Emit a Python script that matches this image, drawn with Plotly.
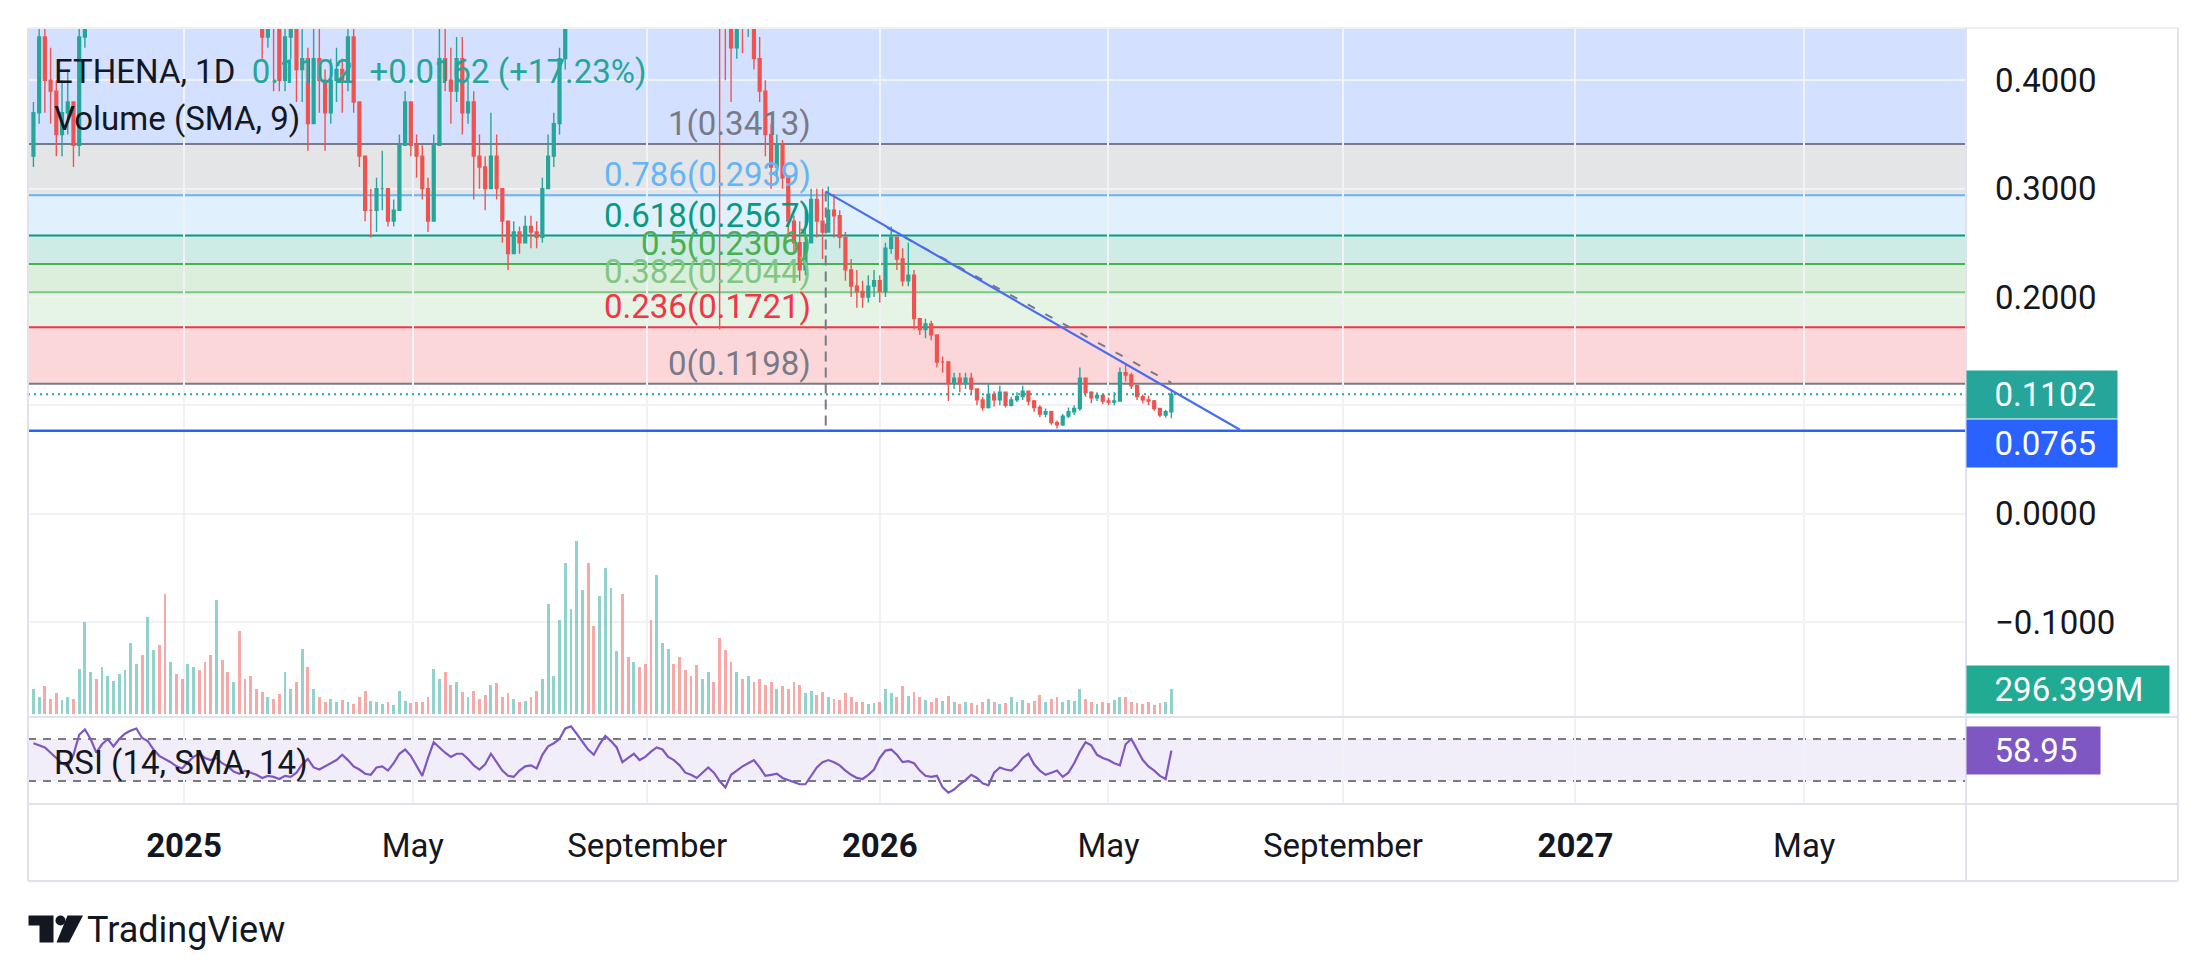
import pandas as pd
import plotly.graph_objects as go

# ---------------- data ----------------
START_DATE = "2024-10-14"
STEP = "3D"
FIRST_OPEN = 0.33

CLOSE = [
    0.37, 0.44, 0.40, 0.39, 0.35, 0.37, 0.38, 0.34, 0.44, 0.50,
    0.58, 0.55, 0.60, 0.65, 0.70, 0.72, 0.82, 0.95, 1.05, 0.98,
    1.10, 1.18, 1.05, 0.98, 1.12, 1.02, 0.95, 1.05, 1.15, 1.05,
    0.85, 0.78, 0.85, 0.80, 0.78, 0.82, 0.80, 0.70, 0.56, 0.52,
    0.44, 0.47, 0.45, 0.40, 0.44, 0.46, 0.41, 0.42, 0.36, 0.42,
    0.40, 0.37, 0.40, 0.41, 0.40, 0.44, 0.38, 0.33, 0.28, 0.28,
    0.30, 0.30, 0.27, 0.28, 0.34, 0.38, 0.34, 0.33, 0.30, 0.27,
    0.34, 0.42, 0.40, 0.39, 0.42, 0.37, 0.38, 0.33, 0.32, 0.30,
    0.33, 0.30, 0.27, 0.24, 0.26, 0.25, 0.265, 0.26, 0.255, 0.30,
    0.33, 0.36, 0.42, 0.46, 0.55, 0.58, 0.62, 0.60, 0.55, 0.58,
    0.66, 0.72, 0.78, 0.74, 0.66, 0.70, 0.68, 0.64, 0.62, 0.66,
    0.73, 0.76, 0.74, 0.70, 0.60, 0.58, 0.56, 0.58, 0.60, 0.58,
    0.46, 0.45, 0.43, 0.47, 0.46, 0.48, 0.42, 0.39, 0.35, 0.32,
    0.34, 0.31, 0.27, 0.25, 0.225, 0.25, 0.29, 0.27, 0.26, 0.28,
    0.275, 0.255, 0.225, 0.21, 0.205, 0.20, 0.21, 0.215, 0.205, 0.245,
    0.255, 0.235, 0.215, 0.22, 0.18, 0.17, 0.175, 0.165, 0.14, 0.14,
    0.12, 0.125, 0.12, 0.125, 0.115, 0.105, 0.098, 0.11, 0.105, 0.112,
    0.10, 0.105, 0.108, 0.113, 0.104, 0.098, 0.092, 0.094, 0.084, 0.082,
    0.09, 0.094, 0.097, 0.125, 0.112, 0.107, 0.109, 0.104, 0.103, 0.104,
    0.13, 0.128, 0.118, 0.108, 0.105, 0.104, 0.097, 0.091, 0.094, 0.1102,
]
HIGH = [
    0.38, 0.46, 0.45, 0.43, 0.40, 0.40, 0.41, 0.38, 0.46, 0.53,
    0.60, 0.61, 0.63, 0.68, 0.74, 0.78, 0.86, 1.00, 1.12, 1.08,
    1.15, 1.25, 1.20, 1.08, 1.16, 1.14, 1.05, 1.08, 1.22, 1.17,
    1.06, 0.88, 0.90, 0.88, 0.84, 0.86, 0.85, 0.82, 0.72, 0.58,
    0.52, 0.50, 0.49, 0.47, 0.47, 0.49, 0.47, 0.46, 0.43, 0.45,
    0.45, 0.41, 0.42, 0.43, 0.42, 0.45, 0.45, 0.38, 0.33, 0.30,
    0.31, 0.335, 0.30, 0.29, 0.35, 0.39, 0.38, 0.35, 0.34, 0.31,
    0.35, 0.45, 0.46, 0.43, 0.44, 0.44, 0.40, 0.39, 0.35, 0.33,
    0.37, 0.35, 0.30, 0.27, 0.27, 0.265, 0.275, 0.275, 0.27, 0.31,
    0.35, 0.37, 0.43, 0.48, 0.58, 0.62, 0.66, 0.65, 0.62, 0.60,
    0.68, 0.75, 0.82, 0.80, 0.76, 0.73, 0.72, 0.70, 0.66, 0.68,
    0.75, 0.80, 0.79, 0.76, 0.71, 0.62, 0.60, 0.61, 0.63, 0.62,
    0.60, 0.50, 0.48, 0.50, 0.49, 0.51, 0.49, 0.44, 0.40, 0.36,
    0.35, 0.345, 0.31, 0.275, 0.27, 0.28, 0.30, 0.30, 0.30, 0.302,
    0.295, 0.28, 0.26, 0.235, 0.225, 0.215, 0.22, 0.225, 0.22, 0.25,
    0.265, 0.255, 0.245, 0.25, 0.225, 0.18, 0.18, 0.178, 0.165, 0.145,
    0.14, 0.13, 0.13, 0.13, 0.13, 0.115, 0.108, 0.12, 0.113, 0.118,
    0.112, 0.108, 0.112, 0.118, 0.113, 0.105, 0.10, 0.097, 0.095, 0.086,
    0.092, 0.098, 0.10, 0.135, 0.125, 0.113, 0.112, 0.11, 0.107, 0.112,
    0.135, 0.139, 0.13, 0.118, 0.11, 0.109, 0.105, 0.097, 0.096, 0.115,
]
LOW = [
    0.32, 0.36, 0.37, 0.36, 0.33, 0.33, 0.35, 0.32, 0.33, 0.43,
    0.49, 0.52, 0.53, 0.58, 0.63, 0.66, 0.70, 0.80, 0.92, 0.93,
    0.96, 1.05, 1.00, 0.92, 0.97, 0.98, 0.90, 0.93, 1.03, 1.00,
    0.82, 0.72, 0.76, 0.74, 0.74, 0.76, 0.74, 0.66, 0.45, 0.48,
    0.42, 0.43, 0.39, 0.39, 0.39, 0.42, 0.38, 0.38, 0.335, 0.36,
    0.37, 0.335, 0.36, 0.38, 0.37, 0.39, 0.37, 0.32, 0.27, 0.255,
    0.26, 0.28, 0.265, 0.265, 0.28, 0.34, 0.33, 0.31, 0.29, 0.26,
    0.27, 0.34, 0.39, 0.36, 0.38, 0.35, 0.36, 0.29, 0.30, 0.28,
    0.30, 0.29, 0.25, 0.225, 0.24, 0.24, 0.25, 0.245, 0.245, 0.25,
    0.30, 0.32, 0.35, 0.41, 0.45, 0.52, 0.55, 0.56, 0.52, 0.53,
    0.57, 0.64, 0.70, 0.70, 0.63, 0.64, 0.64, 0.61, 0.58, 0.60,
    0.65, 0.71, 0.70, 0.67, 0.57, 0.55, 0.53, 0.54, 0.56, 0.55,
    0.17, 0.40, 0.38, 0.42, 0.425, 0.44, 0.41, 0.38, 0.33, 0.30,
    0.31, 0.30, 0.255, 0.24, 0.215, 0.22, 0.25, 0.255, 0.235, 0.26,
    0.255, 0.245, 0.215, 0.20, 0.19, 0.19, 0.195, 0.20, 0.195, 0.20,
    0.24, 0.225, 0.21, 0.21, 0.17, 0.165, 0.162, 0.16, 0.135, 0.13,
    0.104, 0.115, 0.112, 0.115, 0.11, 0.10, 0.095, 0.097, 0.099, 0.10,
    0.098, 0.099, 0.103, 0.105, 0.10, 0.094, 0.089, 0.089, 0.082, 0.0785,
    0.081, 0.088, 0.091, 0.095, 0.108, 0.102, 0.104, 0.101, 0.10, 0.10,
    0.104, 0.122, 0.115, 0.105, 0.102, 0.10, 0.095, 0.089, 0.0885, 0.088,
]
VOLUME_M = [
    300, 200, 340, 180, 250, 170, 200, 180, 540, 1090,
    500, 420, 560, 450, 400, 480, 520, 850, 600, 700,
    1150, 760, 820, 1430, 620, 480, 420, 600, 560, 520,
    620, 700, 1360, 640, 500, 380, 990, 420, 450, 300,
    260, 200, 180, 240, 500, 300, 380, 770, 560, 300,
    200, 150, 180, 140, 170, 150, 120, 200, 280, 160,
    150, 120, 140, 110, 280, 160, 130, 150, 140, 200,
    540, 420, 500, 350, 380, 260, 200, 280, 180, 230,
    350, 370, 200, 250, 180, 150, 160, 200, 280, 420,
    1310, 450, 1120, 1800, 1250, 2060, 1470, 1800, 1050, 1400,
    1740, 1500, 750, 1430, 680, 620, 560, 600, 1120, 1650,
    850, 780, 600, 680, 520, 450, 580, 420, 500, 380,
    900, 760, 620, 500, 420, 450, 380, 420, 350, 380,
    300, 340, 300, 380, 350, 250, 280, 230, 260, 200,
    180, 170, 250, 200, 150, 140, 120, 130, 150, 300,
    250, 200, 330, 220, 260, 200, 170, 150, 190, 160,
    220, 150, 120, 140, 130, 110, 140, 180, 150, 120,
    130, 200, 140, 170, 130, 160, 230, 150, 180, 200,
    150, 170, 160, 300, 180, 150, 120, 140, 130, 170,
    200, 210, 150, 130, 120, 140, 110, 130, 150, 296.399,
]
RSI = [
    66, 64, 62, 57, 52, 47, 44, 55, 74, 79,
    70, 57, 65, 70, 63, 70, 75, 78, 80, 71,
    68, 60, 54, 51, 48, 44, 42, 48, 53, 56,
    52, 50, 52, 47, 44, 39, 37, 40, 38, 36,
    33, 35, 34, 32, 35, 34, 38, 46, 51, 43,
    41, 44, 47, 50, 55, 50, 44, 41, 37, 36,
    43, 44, 40, 47, 56, 60, 54, 45, 35, 52,
    67, 62, 57, 53, 56, 56, 51, 45, 41, 46,
    56, 48, 40, 35, 34, 40, 44, 45, 42, 55,
    63, 66, 70, 80, 82, 75, 68, 60, 55, 65,
    73, 68, 62, 48, 52, 56, 50, 53, 58, 62,
    60, 53, 50, 45, 38, 36, 33, 38, 43, 38,
    30, 24, 36, 40, 44, 47, 50, 43, 35, 36,
    37, 33, 31, 29, 27, 27, 35, 43, 48, 50,
    48, 45, 40, 36, 33, 32, 36, 41, 52, 59,
    60, 55, 48, 49, 47, 40, 35, 34, 35, 24,
    19, 22, 27, 31, 36, 33, 28, 26, 38, 43,
    41, 40, 45, 52, 56, 46, 40, 36, 38, 40,
    34, 38, 47, 58, 67, 64, 55, 52, 50, 47,
    45, 65, 70, 60, 50, 44, 40, 35, 32, 58.95,
]

SYMBOL = "ETHENA, 1D"
LAST_PRICE = 0.1102
CHANGE_TEXT = "+0.0162 (+17.23%)"
VOLUME_LABEL = "296.399M"

FIB_LOW = 0.1198
FIB_HIGH = 0.3413
FIB_RATIOS = [0, 0.236, 0.382, 0.5, 0.618, 0.786, 1, 1.618]
FIB_NAMES = ["0", "0.236", "0.382", "0.5", "0.618", "0.786", "1", "1.618"]
FIB_COLORS = ["#787b86", "#f23645", "#81c784", "#4caf50", "#089981", "#64b5f6", "#787b86", "#2962ff"]
FIB_ANCHOR = "2025-12-03 16:00"

SUPPORT = 0.0765
TREND = [("2025-12-03 16:00", 0.2973), ("2026-07-09", 0.0775)]
TREND_DASH = [("2026-01-05", 0.2638), ("2026-06-03", 0.1208)]
VLINE = [("2025-12-03 16:00", 0.2973), ("2025-12-03 16:00", SUPPORT)]

TICK_DATES = ["2025-01-01", "2025-05-01", "2025-09-01", "2026-01-01",
              "2026-05-01", "2026-09-01", "2027-01-01", "2027-05-01"]
TICK_TEXT = ["<b>2025</b>", "May", "September", "<b>2026</b>",
             "May", "September", "<b>2027</b>", "May"]
PRICE_TICKS = [-0.1, 0.0, 0.1, 0.2, 0.3, 0.4]
X_RANGE = ["2024-10-11 03:30", "2027-07-24 21:30"]

# ---------------- figure ----------------
W, H = 2206, 980
PL, PR, PT, PB = 28, 1966, 28, 804.5   # plot area in pixels
OUTER_R, AXIS_B = 2178, 881.5
SEP = 717.5


def px(x):
    return (x - PL) / (PR - PL)


def py(y):
    return (PB - y) / (PB - PT)


def rgba(hexc, a):
    h = hexc.lstrip("#")
    return "rgba(%d,%d,%d,%s)" % (int(h[0:2], 16), int(h[2:4], 16), int(h[4:6], 16), a)


dates = pd.date_range(START_DATE, periods=len(CLOSE), freq=STEP)
OPEN = [FIRST_OPEN] + CLOSE[:-1]
up = [c >= o for c, o in zip(CLOSE, OPEN)]
vol_colors = [rgba("#26a69a", 0.5) if u else rgba("#ef5350", 0.5) for u in up]

TEXT = "#131722"
FONT = "Roboto"
FS = 33

fig = go.Figure()
fig.add_trace(go.Bar(
    x=dates, y=VOLUME_M, marker=dict(color=vol_colors, line=dict(width=0)),
    width=1.5 * 86400000, xaxis="x", yaxis="y3", hoverinfo="skip", showlegend=False))
fig.add_trace(go.Candlestick(
    x=dates, open=OPEN, high=HIGH, low=LOW, close=CLOSE,
    increasing=dict(line=dict(color="#26a69a", width=1.4), fillcolor="#26a69a"),
    decreasing=dict(line=dict(color="#ef5350", width=1.4), fillcolor="#ef5350"),
    whiskerwidth=0, xaxis="x", yaxis="y", hoverinfo="skip", showlegend=False))
fig.add_trace(go.Scatter(
    x=dates, y=RSI, mode="lines", line=dict(color="#7e57c2", width=2.2),
    xaxis="x", yaxis="y2", hoverinfo="skip", showlegend=False))

shapes = []
fib_vals = [FIB_LOW + (FIB_HIGH - FIB_LOW) * r for r in FIB_RATIOS]
for i in range(len(fib_vals) - 1):
    shapes.append(dict(type="rect", xref="x domain", yref="y", x0=0, x1=1,
                       y0=fib_vals[i], y1=fib_vals[i + 1],
                       fillcolor=rgba(FIB_COLORS[i + 1], 0.2), line=dict(width=0), layer="below"))
for v, c in zip(fib_vals[:-1], FIB_COLORS[:-1]):
    shapes.append(dict(type="line", xref="x domain", yref="y", x0=0, x1=1, y0=v, y1=v,
                       line=dict(color=c, width=2), layer="below"))
# RSI band and bounds
shapes.append(dict(type="rect", xref="x domain", yref="y2", x0=0, x1=1, y0=30, y1=70,
                   fillcolor=rgba("#7e57c2", 0.1), line=dict(width=0), layer="below"))
for lv in (30, 70):
    shapes.append(dict(type="line", xref="x domain", yref="y2", x0=0, x1=1, y0=lv, y1=lv,
                       line=dict(color="#787b86", width=2, dash="8px,7px"), layer="below"))
# drawings
shapes.append(dict(type="line", xref="x domain", yref="y", x0=0, x1=1, y0=SUPPORT, y1=SUPPORT,
                   line=dict(color="#2962ff", width=2.5)))
shapes.append(dict(type="line", xref="x domain", yref="y", x0=0, x1=1, y0=LAST_PRICE, y1=LAST_PRICE,
                   line=dict(color="#26a69a", width=2, dash="2px,4px")))
shapes.append(dict(type="line", xref="x", yref="y", x0=VLINE[0][0], y0=VLINE[0][1],
                   x1=VLINE[1][0], y1=VLINE[1][1],
                   line=dict(color="#787b86", width=2, dash="10px,6px")))
shapes.append(dict(type="line", xref="x", yref="y", x0=TREND_DASH[0][0], y0=TREND_DASH[0][1],
                   x1=TREND_DASH[1][0], y1=TREND_DASH[1][1],
                   line=dict(color="#787b86", width=2, dash="8px,12px")))
shapes.append(dict(type="line", xref="x", yref="y", x0=TREND[0][0], y0=TREND[0][1],
                   x1=TREND[1][0], y1=TREND[1][1],
                   line=dict(color="#4a6cf0", width=2.2)))

# frame lines (pixel layout)
BORDER = "#e0e3eb"


def pline(x0, y0, x1, y1, color=BORDER, w=2):
    shapes.append(dict(type="line", xref="paper", yref="paper", x0=px(x0), y0=py(y0),
                       x1=px(x1), y1=py(y1), line=dict(color=color, width=w)))


pline(PL, PT, OUTER_R, PT, "#eef0f3")
pline(PL, PT, PL, AXIS_B)
pline(PR, PT, PR, AXIS_B)
pline(OUTER_R, PT, OUTER_R, AXIS_B)
pline(PL, SEP, OUTER_R, SEP)
pline(PL, PB, OUTER_R, PB)
pline(PL, AXIS_B, OUTER_R, AXIS_B)

# TradingView logo
LOGO = "#131722"


def ppath(pts):
    return "M " + " L ".join("%f,%f" % (px(a), py(b)) for a, b in pts) + " Z"


shapes.append(dict(type="path", xref="paper", yref="paper",
                   path=ppath([(28.5, 916), (53.5, 916), (53.5, 943), (39.5, 943), (39.5, 926), (28.5, 926)]),
                   fillcolor=LOGO, line=dict(width=0)))
shapes.append(dict(type="circle", xref="paper", yref="paper", x0=px(55.5), x1=px(65.5),
                   y0=py(926), y1=py(916), fillcolor=LOGO, line=dict(width=0)))
shapes.append(dict(type="path", xref="paper", yref="paper",
                   path=ppath([(67.5, 916), (83, 916), (69, 943), (56.5, 943)]),
                   fillcolor=LOGO, line=dict(width=0)))

annotations = []
# fib labels
for name, v, c in zip(FIB_NAMES[:-1], fib_vals[:-1], FIB_COLORS[:-1]):
    annotations.append(dict(x=FIB_ANCHOR, y=v, xref="x", yref="y", xanchor="right", yanchor="bottom",
                            xshift=-13, yshift=-1, showarrow=False,
                            text="%s(%.4f)" % (name, round(v + 1e-9, 4)),
                            font=dict(family=FONT, size=FS, color=c)))
# legends
annotations.append(dict(x=px(52), y=py(72), xref="paper", yref="paper", xanchor="left", yanchor="middle",
                        showarrow=False, font=dict(family=FONT, size=FS, color=TEXT),
                        text=SYMBOL + "\u00a0\u00a0<span style='color:#26a69a'>%.4f\u00a0\u00a0%s</span>"
                        % (LAST_PRICE, CHANGE_TEXT)))
annotations.append(dict(x=px(52), y=py(119), xref="paper", yref="paper", xanchor="left", yanchor="middle",
                        showarrow=False, font=dict(family=FONT, size=FS, color=TEXT),
                        text="Volume (SMA, 9)"))
annotations.append(dict(x=px(52), y=py(763), xref="paper", yref="paper", xanchor="left", yanchor="middle",
                        showarrow=False, font=dict(family=FONT, size=FS, color=TEXT),
                        text="RSI (14, SMA, 14)"))
# axis value labels
PAD = "\u00a0\u00a0\u00a0"
BP = 3


def axis_label(yref, y, text, bg, width, yshift=0):
    annotations.append(dict(x=1, y=y, xref="paper", yref=yref, xanchor="left", yanchor="middle",
                            yshift=yshift, showarrow=False, text=PAD + text, align="left",
                            bgcolor=bg, width=width - 2 * BP, height=47 - 2 * BP, borderpad=BP,
                            font=dict(family=FONT, size=FS, color="white")))


axis_label("y", LAST_PRICE, "%.4f" % LAST_PRICE, "#26a69a", 150)
axis_label("y", SUPPORT, "%.4f" % SUPPORT, "#2962ff", 150, yshift=-13)
axis_label("y3", VOLUME_M[-1], VOLUME_LABEL, "#22ab94", 202)
axis_label("y2", RSI[-1], "%.2f" % RSI[-1], "#7e57c2", 133)
# brand
annotations.append(dict(x=px(85), y=py(931), xref="paper", yref="paper", xanchor="left", yanchor="middle",
                        showarrow=False, text="TradingView",
                        font=dict(family=FONT, size=36, color=TEXT)))

GRID = "#f0f2f6"
fig.update_layout(
    width=W, height=H,
    margin=dict(l=PL, r=W - PR, t=PT, b=H - PB, pad=0),
    paper_bgcolor="white", plot_bgcolor="white",
    font=dict(family=FONT, size=FS, color=TEXT),
    showlegend=False, hovermode=False, bargap=0,
    xaxis=dict(domain=[0, 1], anchor="y2", type="date", range=X_RANGE,
               tickvals=TICK_DATES, ticktext=TICK_TEXT, ticks="", ticklabelstandoff=19,
               tickfont=dict(family=FONT, size=FS, color=TEXT),
               showgrid=True, gridcolor=GRID, gridwidth=2, zeroline=False, showline=False,
               rangeslider=dict(visible=False)),
    yaxis=dict(domain=[py(SEP - 0.5), 1], anchor="x", side="right", range=[-0.1873, 0.4483],
               tickvals=PRICE_TICKS, tickformat=".4f", ticks="", ticklabelstandoff=28,
               tickfont=dict(family=FONT, size=FS, color=TEXT),
               showgrid=True, gridcolor=GRID, gridwidth=2, zeroline=False, showline=False),
    yaxis2=dict(domain=[0, py(SEP + 0.5)], anchor="x", range=[8.24, 90.4], showticklabels=False,
                showgrid=False, zeroline=False, showline=False, ticks=""),
    yaxis3=dict(overlaying="y", anchor="x", side="right", range=[-27, 8144], showticklabels=False,
                showgrid=False, zeroline=False, showline=False, ticks=""),
    shapes=shapes, annotations=annotations,
)

fig.write_html("out.html", config={"displayModeBar": False},
               post_script="document.body.style.margin='0px';document.body.style.overflow='hidden';")
